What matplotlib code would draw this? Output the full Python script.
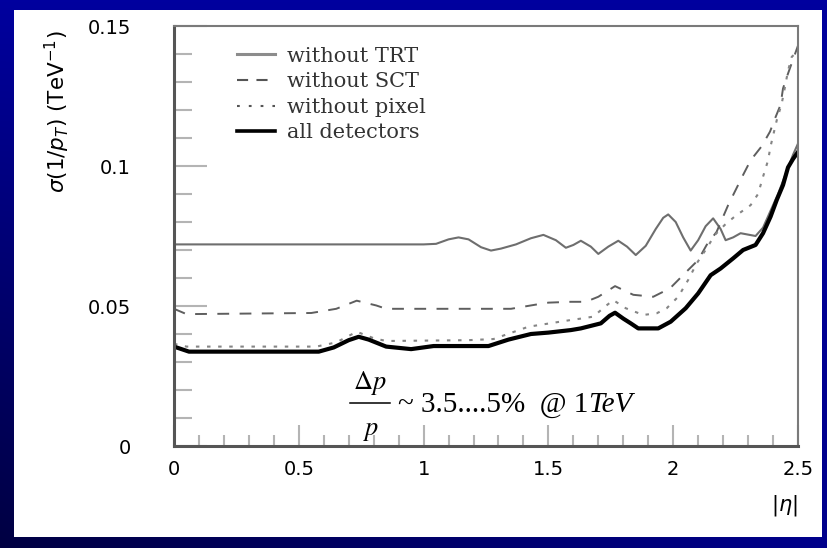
import numpy as np
import matplotlib
matplotlib.use('Agg')
import matplotlib.pyplot as plt
from matplotlib.lines import Line2D
from matplotlib.patches import Rectangle

plt.rcParams['lines.scale_dashes'] = False
plt.rcParams['mathtext.fontset'] = 'dejavusans'

# ---------------- data ----------------
eta_trt = [0.00, 1.00, 1.05, 1.10, 1.14, 1.18, 1.23, 1.27, 1.31, 1.37, 1.43, 1.48, 1.53, 1.57,
           1.60, 1.63, 1.67, 1.70, 1.74, 1.78, 1.815, 1.85, 1.89, 1.93, 1.96, 1.98, 2.01, 2.04,
           2.07, 2.10, 2.13, 2.16, 2.19, 2.21, 2.24, 2.27, 2.33, 2.36, 2.39, 2.42, 2.45, 2.48, 2.50]
sig_trt = [0.0720, 0.0720, 0.0722, 0.0738, 0.0745, 0.0738, 0.0710, 0.0698, 0.0705, 0.0720, 0.0742,
           0.0754, 0.0735, 0.0708, 0.0718, 0.0733, 0.0712, 0.0686, 0.0712, 0.0733, 0.0712, 0.0682,
           0.0715, 0.0775, 0.0815, 0.0827, 0.0800, 0.0745, 0.0698, 0.0735, 0.0785, 0.0813, 0.0775,
           0.0735, 0.0745, 0.0760, 0.0750, 0.0780, 0.0840, 0.0900, 0.0970, 0.1040, 0.1080]

eta_sct = [0.00, 0.05, 0.55, 0.65, 0.732, 0.81, 0.85, 1.35, 1.45, 1.50, 1.59, 1.65, 1.70, 1.767,
           1.84, 1.92, 1.987, 2.047, 2.10, 2.134, 2.174, 2.22, 2.25, 2.28, 2.31, 2.354, 2.388,
           2.408, 2.43, 2.44, 2.46, 2.48, 2.50]
sig_sct = [0.0490, 0.0471, 0.0475, 0.0490, 0.0519, 0.0502, 0.0490, 0.0490, 0.0505, 0.0512, 0.0515,
           0.0515, 0.0533, 0.0571, 0.0540, 0.0533, 0.0563, 0.0617, 0.0664, 0.0718, 0.0765, 0.0860,
           0.0914, 0.0968, 0.1020, 0.1070, 0.1123, 0.1170, 0.1218, 0.1277, 0.1330, 0.1380, 0.1430]

eta_pix = [0.00, 0.05, 0.57, 0.65, 0.732, 0.80, 0.85, 1.18, 1.28, 1.42, 1.59, 1.63, 1.68, 1.727,
           1.76, 1.81, 1.88, 1.934, 1.974, 2.02, 2.06, 2.094, 2.134, 2.167, 2.207, 2.247, 2.31,
           2.34, 2.36, 2.38, 2.39, 2.415, 2.435, 2.448, 2.46, 2.475, 2.50]
sig_pix = [0.0365, 0.0355, 0.0355, 0.0370, 0.0408, 0.0385, 0.0375, 0.0378, 0.0382, 0.0426, 0.0450,
           0.0455, 0.0462, 0.0498, 0.0521, 0.0492, 0.0468, 0.0474, 0.0492, 0.0533, 0.0593, 0.0652,
           0.0706, 0.0754, 0.0790, 0.0820, 0.0860, 0.0900, 0.0962, 0.1020, 0.1070, 0.1164, 0.1224,
           0.1283, 0.1340, 0.1390, 0.1410]

eta_all = [0.00, 0.06, 0.58, 0.64, 0.70, 0.74, 0.78, 0.85, 0.95, 1.04, 1.26, 1.34, 1.43, 1.50,
           1.59, 1.63, 1.71, 1.745, 1.767, 1.80, 1.83, 1.86, 1.94, 1.99, 2.05, 2.10, 2.15, 2.19,
           2.24, 2.28, 2.33, 2.36, 2.39, 2.415, 2.44, 2.46, 2.48, 2.50]
sig_all = [0.0355, 0.0337, 0.0337, 0.0352, 0.0378, 0.0390, 0.0380, 0.0355, 0.0346, 0.0357, 0.0357,
           0.0380, 0.0400, 0.0405, 0.0414, 0.0420, 0.0438, 0.0465, 0.0476, 0.0455, 0.0438, 0.0420,
           0.0420, 0.0444, 0.0492, 0.0545, 0.0610, 0.0634, 0.0670, 0.0700, 0.0718, 0.0760, 0.0819,
           0.0879, 0.0932, 0.0995, 0.1025, 0.1050]

series_labels = ['without TRT', 'without SCT', 'without pixel', 'all detectors']
xtick_vals = [0, 0.5, 1, 1.5, 2, 2.5]
xtick_labels = ['0', '0.5', '1', '1.5', '2', '2.5']
ytick_vals = [0, 0.05, 0.1, 0.15]
ytick_labels = ['0', '0.05', '0.1', '0.15']

# ---------------- figure ----------------
W, H = 827, 548
fig = plt.figure(figsize=(W / 100, H / 100), dpi=100)

# blue gradient background + white panel
bg = fig.add_axes([0, 0, 1, 1], zorder=-10)
yy, xx = np.mgrid[0:1:200j, 0:1:300j]
b = 0.62 - 0.36 * yy * (1 - 0.8 * xx)
img = np.dstack([np.zeros_like(b), np.zeros_like(b), b])
bg.imshow(img, extent=[0, 1, 0, 1], aspect='auto', origin='upper')
bg.add_patch(Rectangle((14 / W, 1 - 537 / H), (822 - 14) / W, (537 - 10) / H,
                       facecolor='white', edgecolor='none'))
bg.set_xlim(0, 1)
bg.set_ylim(0, 1)
bg.axis('off')

ax = fig.add_axes([174 / W, 1 - 446 / H, 624 / W, 420 / H])
ax.patch.set_alpha(0)

ax.plot(eta_trt, sig_trt, color='#6e6e6e', lw=1.5)
ax.plot(eta_sct, sig_sct, color='#5e5e5e', lw=1.4, linestyle=(0, (8.5, 7.5)))
ax.plot(eta_pix, sig_pix, color='#858585', lw=1.5, linestyle=(0, (2.5, 5.5)))
ax.plot(eta_all, sig_all, color='black', lw=3.0)

ax.set_xlim(0, 2.5)
ax.set_ylim(0, 0.15)
ax.set_xticks(xtick_vals, xtick_labels)
ax.set_yticks(ytick_vals, ytick_labels)
ax.set_xticks(np.arange(0, 2.5001, 0.1), minor=True)
ax.set_yticks(np.arange(0, 0.15001, 0.01), minor=True)
tc = '#b4b4b4'
ax.tick_params(axis='x', which='major', direction='in', length=15, width=1.5, color=tc,
               pad=10, labelsize=14)
ax.tick_params(axis='x', which='minor', direction='in', length=8, width=1.5, color=tc)
ax.tick_params(axis='y', which='major', direction='in', length=24, width=1.5, color=tc,
               pad=31, labelsize=14)
ax.tick_params(axis='y', which='minor', direction='in', length=13, width=1.5, color=tc)

ax.spines['left'].set(color='#555555', lw=2.2)
ax.spines['bottom'].set(color='#555555', lw=2.2)
ax.spines['top'].set(color='#7a7a7a', lw=1.5)
ax.spines['right'].set(color='#7a7a7a', lw=1.5)

# legend
handles = [Line2D([], [], color='#8c8c8c', lw=2.2),
           Line2D([], [], color='#555555', lw=1.5, linestyle=(0, (8, 6))),
           Line2D([], [], color='#555555', lw=1.5, linestyle=(0, (2, 6.5))),
           Line2D([], [], color='black', lw=2.6)]
ax.legend(handles, series_labels, loc='upper left', bbox_to_anchor=(237 / W, 1 - 46.5 / H),
          bbox_transform=fig.transFigure, frameon=False, borderpad=0, borderaxespad=0,
          handlelength=1.83, handletextpad=0.58, labelspacing=0.32,
          prop={'family': 'DejaVu Serif', 'size': 15}, labelcolor='#333333')

# axis labels
fig.text(57 / W, 1 - 112 / H, r'$\sigma(1/p_T)$ (TeV$^{-1}$)', rotation=90,
         ha='center', va='center', fontsize=15.5)
fig.text(798 / W, 1 - 506 / H, r'$|\eta|$', ha='right', va='center', fontsize=15)

# annotation  Δp/p ~ 3.5....5% @ 1TeV
fig.text(370 / W, 1 - 389 / H, r'$\Delta p$', ha='center', va='baseline', fontsize=19,
         math_fontfamily='stix')
fig.text(371 / W, 1 - 435 / H, r'$p$', ha='center', va='baseline', fontsize=19,
         math_fontfamily='stix')
fig.add_artist(Line2D([350 / W, 390 / W], [1 - 402.7 / H, 1 - 402.7 / H], color='black', lw=1.1))
t1 = fig.text(398 / W, 1 - 412 / H, '~ 3.5....5%  @ 1', ha='left', va='baseline',
              fontsize=21, family='Liberation Serif')
ax.annotate('TeV', xy=(1, 0), xycoords=t1, ha='left', va='bottom', fontsize=21,
            family='Liberation Serif', style='italic', annotation_clip=False)

fig.savefig('out.png', dpi=100)
